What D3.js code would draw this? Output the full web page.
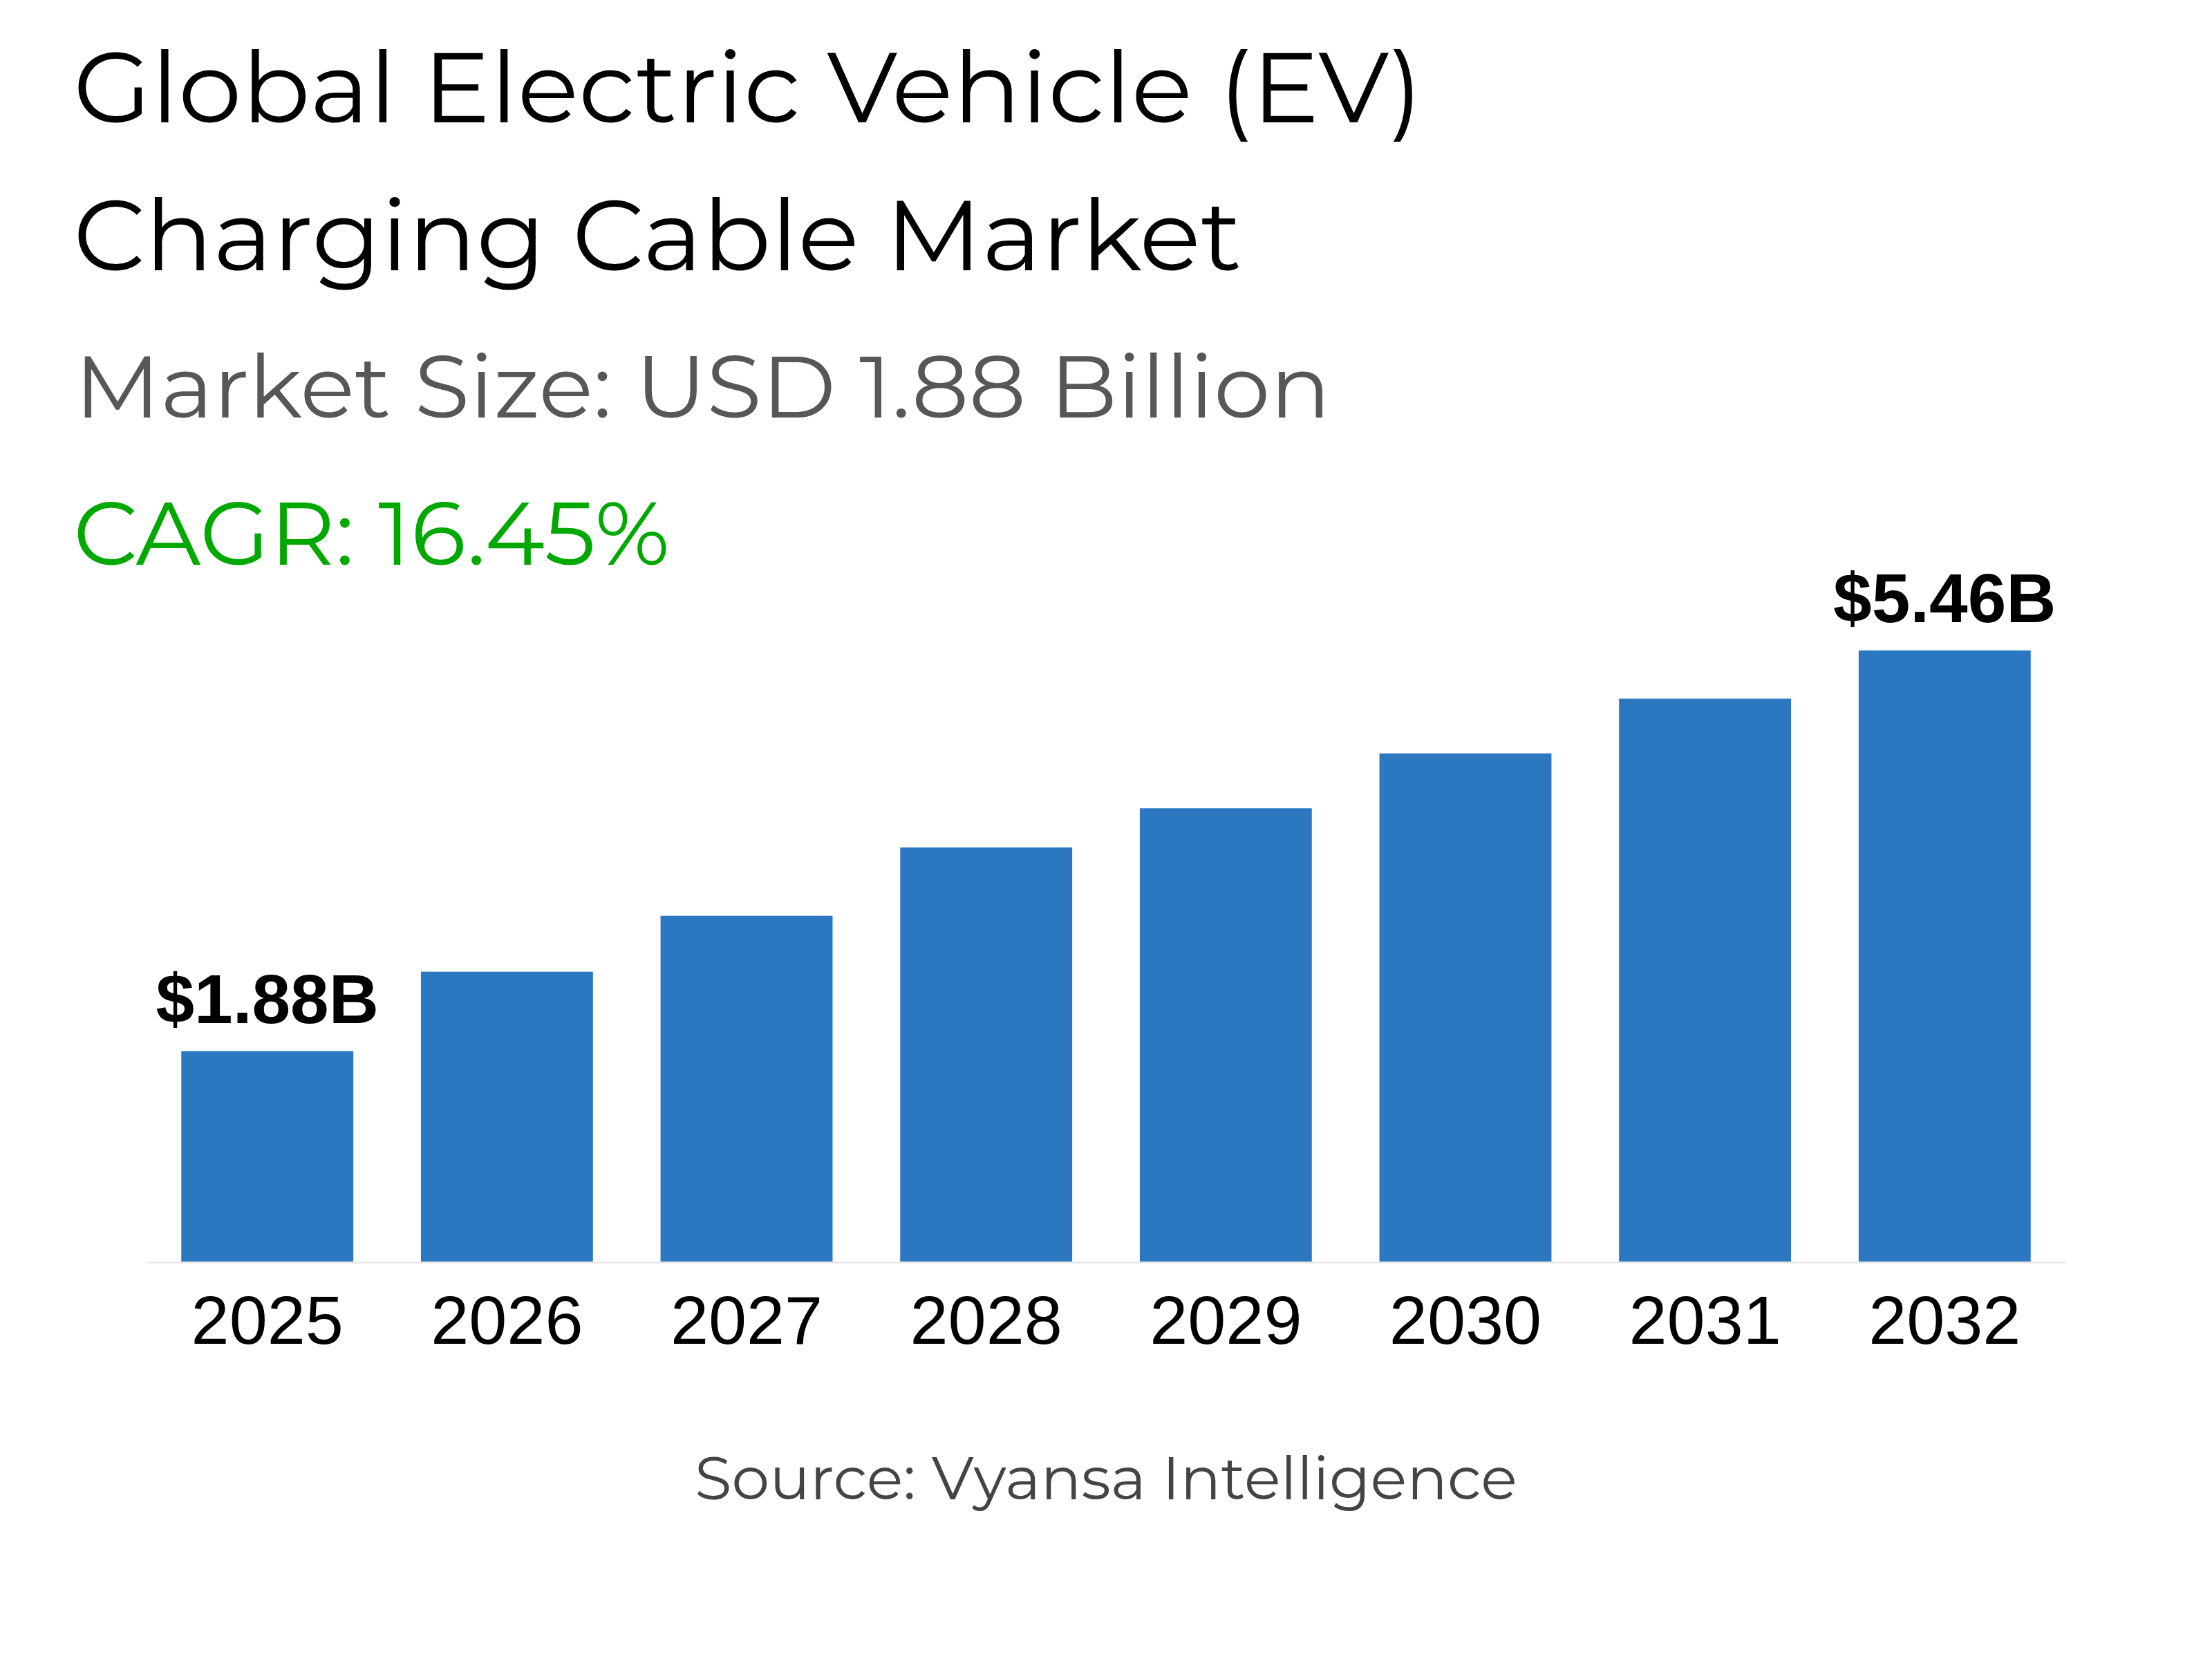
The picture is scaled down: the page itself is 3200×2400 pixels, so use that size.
<!DOCTYPE html>
<html>
<head>
<meta charset="utf-8">
<script src="https://cdn.jsdelivr.net/npm/d3@7"></script>
<style>
  body { margin: 0; background: #fff; }
  svg { display: block; }
</style>
</head>
<body>
<script>
var width = 3200,
height = 2400;

// chart data
var years = ["2025", "2026", "2027", "2028", "2029", "2030", "2031", "2032"];
var values = [1.88, 2.59, 3.09, 3.70, 4.05, 4.54, 5.03, 5.46];
var labelledYears = ["2025", "2032"];

var titleLines = ["Global Electric Vehicle (EV)", "Charging Cable Market"];
var marketSizeText = "Market Size: USD 1.88 Billion";
var cagrText = "CAGR: 16.45%";
var sourceText = "Source: Vyansa Intelligence";

var headFont = "Montserrat, 'DejaVu Sans', sans-serif";
var chartFont = "'Liberation Sans', Arial, sans-serif";

var data = years.map(function(y, i) { return { year: y, value: values[i] }; });

var xscale = d3.scaleBand()
    .domain(years)
    .range([212, 2988])
    .paddingInner(0.282)
    .paddingOuter(0.145);

var yscale = d3.scaleLinear()
    .domain([0, d3.max(values)])
    .range([1825, 941]);

var svg = d3.select("body")
.append("svg")
    .attr("width", width)
    .attr("height", height)

// header block (reference font runs a bit wider than the local Montserrat, so stretch to fit)
var head = svg.append("g").attr("class", "head")

head.selectAll("text.title")
    .data(titleLines).enter()
    .append("text")
    .attr("class", "title")
    .attr("x", 106)
    .attr("y", function(d, i) { return 177 + i * 214 })
    .attr("textLength", function(d, i) { return i == 0 ? 1952 : 1690 })
    .attr("lengthAdjust", "spacingAndGlyphs")
    .style("font-family", headFont)
    .style("font-size", "144px")
    .style("fill", "#000")
    .text(function(d) { return d })

head.append("text")
    .attr("x", 108)
    .attr("y", 604)
    .attr("textLength", 1817)
    .attr("lengthAdjust", "spacingAndGlyphs")
    .style("font-family", headFont)
    .style("font-size", "127px")
    .style("fill", "#575757")
    .text(marketSizeText)

head.append("text")
    .attr("x", 106)
    .attr("y", 817)
    .attr("textLength", 863)
    .attr("lengthAdjust", "spacingAndGlyphs")
    .style("font-family", headFont)
    .style("font-size", "128px")
    .style("fill", "#00a800")
    .text(cagrText)

// bars
svg.append("g")
    .attr("class", "bars")
    .selectAll("rect")
    .data(data).enter()
    .append("rect")
    .attr("x", function(d) { return xscale(d.year) })
    .attr("y", function(d) { return yscale(d.value) })
    .attr("width", xscale.bandwidth())
    .attr("height", function(d) { return yscale(0) - yscale(d.value) })
    .style("fill", "#2c78c0")

// value labels on first and last bar only
svg.append("g")
    .attr("class", "labels")
    .selectAll("text")
    .data(data.filter(function(d) { return labelledYears.includes(d.year) })).enter()
    .append("text")
    .attr("x", function(d) { return xscale(d.year) + xscale.bandwidth() / 2 })
    .attr("y", function(d) { return yscale(d.value) - 41 })
    .attr("text-anchor", "middle")
    .style("font-family", chartFont)
    .style("font-weight", "bold")
    .style("font-size", "100px")
    .style("fill", "#000")
    .text(function(d) { return "$" + d.value.toFixed(2) + "B" })

// x axis
var xAxis = svg.append("g")
    .attr("class", "x-axis")
    .attr("transform", "translate(0," + (yscale(0) + 1) + ")")
    .call(d3.axisBottom(xscale).tickSize(0).tickSizeOuter(0).tickPadding(48))

xAxis.select(".domain")
    .attr("stroke", "#e3e3e3")
    .attr("stroke-width", 2)

xAxis.selectAll(".tick text")
    .style("font-family", chartFont)
    .style("font-size", "99px")
    .style("fill", "#000")

// source line
svg.append("text")
    .attr("x", 1600)
    .attr("y", 2169)
    .attr("text-anchor", "middle")
    .attr("textLength", 1190)
    .attr("lengthAdjust", "spacingAndGlyphs")
    .style("font-family", headFont)
    .style("font-size", "86px")
    .style("fill", "#444")
    .text(sourceText)
</script>
</body>
</html>
